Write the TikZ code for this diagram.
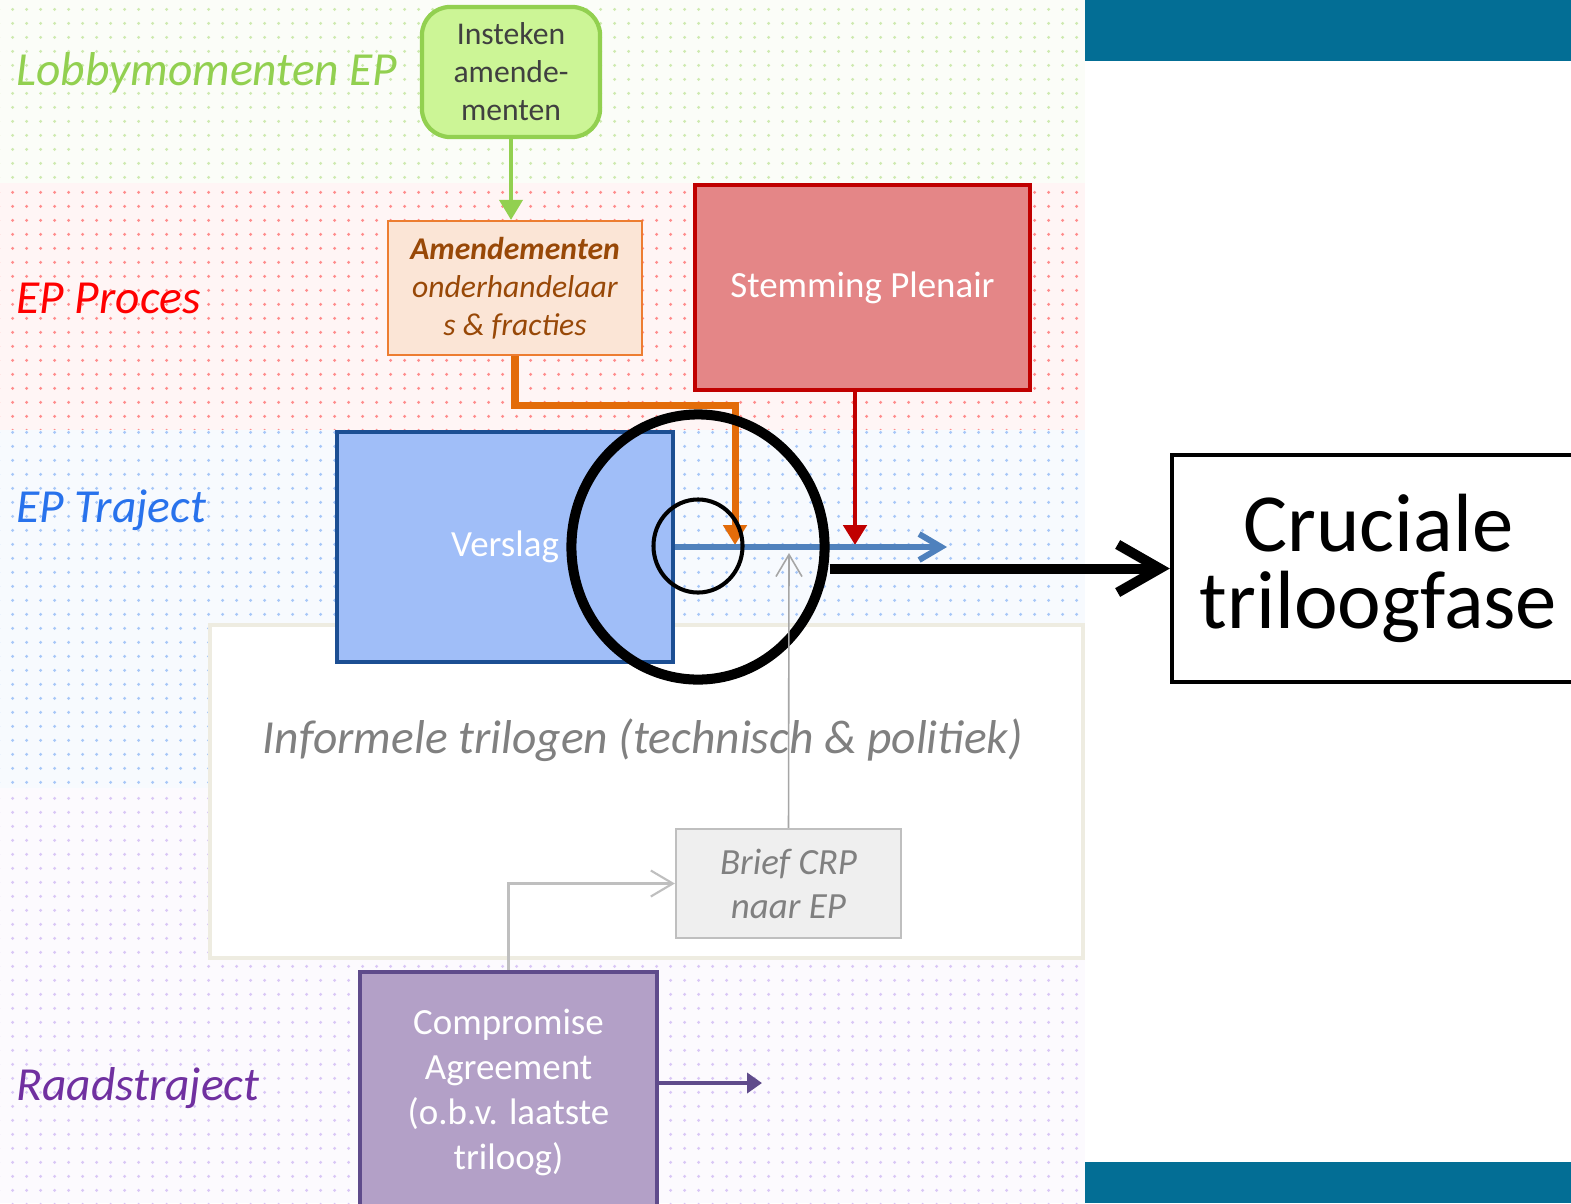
\documentclass[tikz,border=0pt]{standalone}
\usepackage{fontspec}
\setmainfont{Carlito}
\usepackage{xcolor}
\usepackage{tikz}
\usetikzlibrary{arrows.meta, positioning, shapes.geometric, patterns.meta}
\definecolor{lobbygreen}{RGB}{146, 208, 80}
\definecolor{lightlime}{RGB}{204, 245, 150}
\definecolor{amendfill}{RGB}{251, 229, 214}
\definecolor{amendline}{RGB}{237, 125, 49}
\definecolor{amendtext}{RGB}{152, 72, 7}
\definecolor{orangeline}{RGB}{227, 108, 10}
\definecolor{plenairfill}{RGB}{228, 134, 135}
\definecolor{darkred}{RGB}{192, 0, 0}
\definecolor{verslagfill}{RGB}{160, 190, 248}
\definecolor{verslagline}{RGB}{28, 79, 147}
\definecolor{trajectblue}{RGB}{40, 114, 236}
\definecolor{steelblue}{RGB}{79, 129, 189}
\definecolor{raadpurple}{RGB}{112, 48, 160}
\definecolor{lanepurple}{RGB}{170, 130, 235}
\definecolor{lanedots}{RGB}{60, 130, 240}
\definecolor{compfill}{RGB}{179, 160, 199}
\definecolor{compline}{RGB}{95, 75, 139}
\definecolor{brieffill}{RGB}{239, 239, 239}
\definecolor{briefline}{RGB}{191, 191, 191}
\definecolor{trilogline}{RGB}{238, 236, 225}
\definecolor{barteal}{RGB}{3, 110, 149}

\begin{document}
\begin{tikzpicture}[
    x=0.01cm, y=-0.01cm,
    band/.style={fill=#1!4, postaction={pattern={Dots[distance=4pt, radius=0.5pt]}, pattern color=#1!45}},
    box/.style={rectangle, align=center, inner sep=0pt, line width=1.2pt, text=white, font=\fontsize{10.5}{12.8}\selectfont},
    lane/.style={anchor=west, font=\fontsize{13.5}{16}\selectfont\itshape},
    ring/.style={ellipse, draw=black, inner sep=0pt},
    tri/.style={-{Triangle[length=0.2cm, width=0.23cm]}},
    barb/.style={-{Straight Barb[length=0.22cm, width=0.26cm]}}
]

\useasboundingbox (0,0) rectangle (1571,1203);
\clip (0,0) rectangle (1571,1203);

% lanes
\fill[band=lobbygreen] (0,0) rectangle (1085,183);
\fill[band=red] (0,183) rectangle (1085,430);
\fill[band=lanedots] (0,430) rectangle (1085,788);
\fill[band=lanepurple] (0,788) rectangle (1085,1203);
\fill[barteal] (1085,0) rectangle (1571,61);
\fill[barteal] (1085,1162) rectangle (1571,1203);

\node[lane, text=lobbygreen] (lobby) at (4,73) {Lobbymomenten EP};
\node[lane, text=red] (proces) at (4,298) {EP Proces};
\node[lane, text=trajectblue] (traject) at (4,510) {EP Traject};
\node[lane, text=raadpurple] (raad) at (4,1088) {Raadstraject};

\node[box, draw=trilogline, fill=white, line width=1.1pt, minimum width=8.73cm, minimum height=3.33cm] (trilogen) at (646.5,791.5) {};
\node[text=gray, font=\fontsize{13.5}{16}\selectfont\itshape] (trilogtext) at (643,740) {Informele trilogen (technisch \& politiek)};

\node[box, draw=lobbygreen, fill=lightlime, rounded corners=8pt, text=black!75, font=\fontsize{9}{10.8}\selectfont, minimum width=1.78cm, minimum height=1.30cm] (insteken) at (511,72) {Insteken\\amende-\\menten};
\node[box, draw=amendline, fill=amendfill, line width=0.6pt, text=amendtext, font=\fontsize{9}{10.8}\selectfont\itshape, minimum width=2.54cm, minimum height=1.34cm] (amend) at (515,288) {\textbf{Amendementen}\\onderhandelaar\\s \& fracties};
\node[box, draw=darkred, fill=plenairfill, minimum width=3.35cm, minimum height=2.05cm] (plenair) at (862.5,287.5) {Stemming Plenair};
\node[box, draw=verslagline, fill=verslagfill, minimum width=3.36cm, minimum height=2.30cm] (verslag) at (505,547) {Verslag};
\node[box, draw=black, fill=white, text=black, font=\fontsize{23.5}{22}\selectfont, minimum width=4.13cm, minimum height=2.27cm] (cruciale) at (1378.5,568.5) {Cruciale\\triloogfase};
\node[box, draw=briefline, fill=brieffill, line width=0.6pt, text=gray, font=\fontsize{10.5}{12.5}\selectfont\itshape, minimum width=2.25cm, minimum height=1.09cm] (brief) at (788.5,883.5) {Brief CRP\\naar EP};
\node[box, draw=compline, fill=compfill, minimum width=2.97cm, minimum height=2.40cm] (compromis) at (508.5,1092) {Compromise\\Agreement\\(o.b.v. laatste\\triloog)};

\coordinate (oranjeeind) at (735,545);
\coordinate (roodeind) at (855,545);
\coordinate (blauweind) at (947,547);
\coordinate (grijseind) at (789,553);
\coordinate (paarseind) at (762,1083);

\draw[tri, lobbygreen, line width=1.1pt] (insteken.south) -- (insteken.south |- amend.north);
\draw[tri, orangeline, line width=2pt] (amend.south) -- ++(0,49) -| (oranjeeind);
\draw[tri, darkred, line width=1.4pt] (roodeind |- plenair.south) -- (roodeind);
\draw[barb, steelblue, line width=1.7pt] (verslag.east) -- (blauweind);

\node[ring, line width=2.85pt, minimum width=2.53cm, minimum height=2.65cm] (grotering) at (698,547) {};
\node[ring, line width=1.15pt, minimum width=0.89cm, minimum height=0.93cm] (kleinering) at (698,546) {};

\draw[-{Straight Barb[length=0.42cm, width=0.48cm]}, line width=2.85pt] (cruciale.west -| grotering.east) -- (cruciale.west);
\draw[barb, black!35, line width=0.45pt] (brief.north) -- (grijseind);
\draw[barb, briefline, line width=0.6pt] (compromis.north) |- (brief.west);
\draw[-{Triangle[length=0.15cm, width=0.2cm]}, compline, line width=1.1pt] (paarseind -| compromis.east) -- (paarseind);

\end{tikzpicture}
\end{document}
